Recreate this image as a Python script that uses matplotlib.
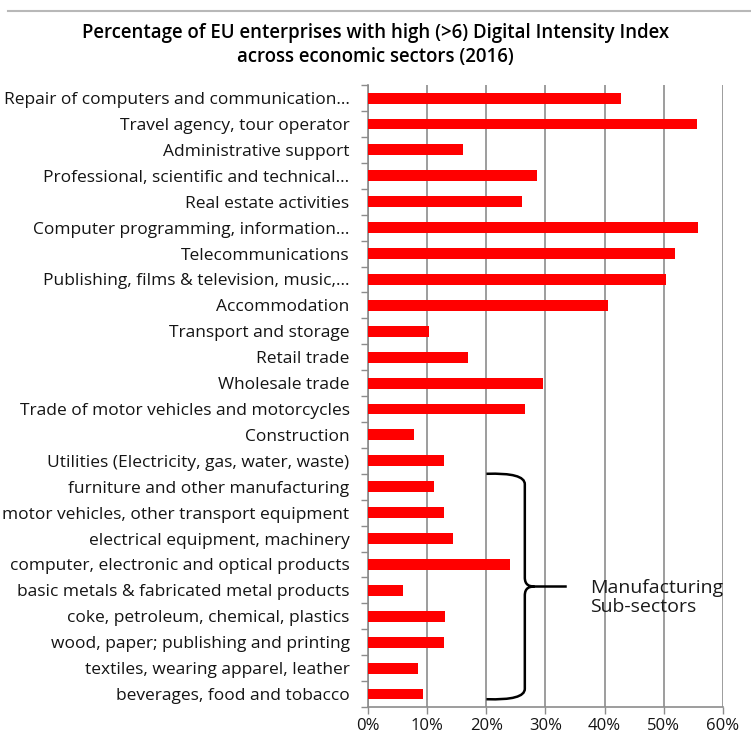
import numpy as np
import matplotlib.pyplot as plt
from matplotlib.path import Path
from matplotlib.patches import PathPatch
from matplotlib.ticker import FixedLocator, FuncFormatter

plt.rcParams['font.family'] = ['Open Sans', 'DejaVu Sans']

# Sectors, top to bottom as they appear on the chart
sectors = [
    "Repair of computers and communication…",
    "Travel agency, tour operator",
    "Administrative support",
    "Professional, scientific and technical…",
    "Real estate activities",
    "Computer programming, information…",
    "Telecommunications",
    "Publishing, films & television, music,…",
    "Accommodation",
    "Transport and storage",
    "Retail trade",
    "Wholesale trade",
    "Trade of motor vehicles and motorcycles",
    "Construction",
    "Utilities (Electricity, gas, water, waste)",
    "furniture and other manufacturing",
    "motor vehicles, other transport equipment",
    "electrical equipment, machinery",
    "computer, electronic and optical products",
    "basic metals & fabricated metal products",
    "coke, petroleum, chemical, plastics",
    "wood, paper; publishing and printing",
    "textiles, wearing apparel, leather",
    "beverages, food and tobacco",
]
# share of enterprises with high DII, in %
share = [42.7, 55.7, 16.1, 28.6, 26.1, 55.9, 51.9, 50.4, 40.5, 10.2,
         16.8, 29.6, 26.6, 7.7, 12.9, 11.1, 12.9, 14.4, 24.0, 5.9,
         13.0, 12.8, 8.5, 9.3]
x_ticks = [0, 10, 20, 30, 40, 50, 60]

fig = plt.figure(figsize=(7.51, 7.34), dpi=100)
ax = fig.add_axes([0.4904, 0.0368, 0.4719, 0.8472])

ypos = np.arange(len(sectors))
ax.barh(ypos, share, height=0.42, color='#ff0000', zorder=3)

ax.set_xlim(0, 60)
ax.set_ylim(len(sectors) - 0.5, -0.5)
ax.xaxis.set_major_locator(FixedLocator(x_ticks))
ax.xaxis.set_major_formatter(FuncFormatter(lambda v, p: f"{v:.0f}%"))
ax.grid(axis='x', color='#8c8c8c', linewidth=1.2, zorder=0)

# category labels, with tick marks on the category boundaries
ax.set_yticks(ypos)
ax.set_yticklabels(sectors, fontsize=12.5, color='#141414')
ax.yaxis.set_minor_locator(FixedLocator(np.arange(-0.5, len(sectors), 1)))
ax.tick_params(axis='y', which='major', length=0, pad=13.5)
ax.tick_params(axis='y', which='minor', length=5, color='#8c8c8c', width=1)
ax.tick_params(axis='x', length=5, color='#8c8c8c', width=1,
               labelsize=12, labelcolor='#141414', pad=3)

for side in ['top', 'right']:
    ax.spines[side].set_visible(False)
for side in ['left', 'bottom']:
    ax.spines[side].set_color('#8c8c8c')
    ax.spines[side].set_linewidth(1.2)

fig.text(0.5, 0.939, "Percentage of EU enterprises with high (>6) Digital Intensity Index\n"
         "across economic sectors (2016)", ha='center', va='center',
         fontsize=13.4, fontweight='semibold', linespacing=1.3)

# thin rule across the top of the page
fig.add_artist(plt.Line2D([0.01, 1.0], [0.985, 0.985], color='#b8b8b8', linewidth=1.5))

# curly brace around the manufacturing sub-sectors
top, bot = 14.5, 23.2
mid = (top + bot) / 2
x0, xv, xt = 20.0, 26.5, 33.6
verts = [
    (x0, top), (xv, top - 0.05), (xv, top + 0.4),
    (xv, mid - 0.35),
    (xv, mid - 0.05), (xv + 0.8, mid), (xt - 5.5, mid),
    (xt, mid),
    (xt - 5.5, mid), (xv + 0.8, mid), (xv, mid + 0.05),
    (xv, mid + 0.35),
    (xv, bot - 0.4),
    (xv, bot + 0.05), (x0, bot),
]
codes = [Path.MOVETO, Path.CURVE3, Path.CURVE3,
         Path.LINETO,
         Path.CURVE4, Path.CURVE4, Path.CURVE4,
         Path.LINETO,
         Path.MOVETO, Path.CURVE4, Path.CURVE4,
         Path.LINETO,
         Path.LINETO,
         Path.CURVE3, Path.CURVE3]
ax.add_patch(PathPatch(Path(verts, codes), facecolor='none', edgecolor='black',
                       linewidth=1.8, zorder=4, clip_on=False))
ax.text(37.5, mid + 0.42, "Manufacturing\nSub-sectors", ha='left', va='center',
        fontsize=14, color='#1a1a1a', linespacing=1.1)

fig.savefig('out.png', dpi=100)
